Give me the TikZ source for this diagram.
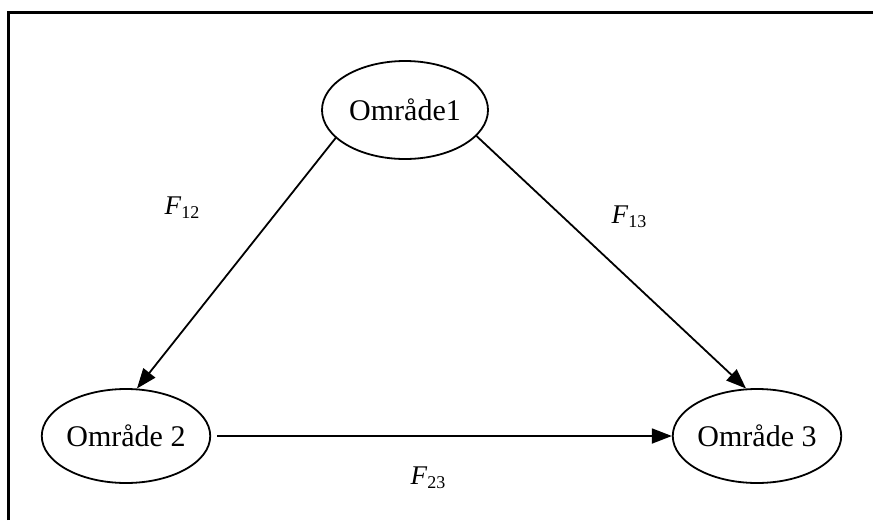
\documentclass[tikz,border=0pt]{standalone}
\usepackage{fontspec}
\setmainfont{Liberation Serif}
\usetikzlibrary{shapes.geometric, arrows.meta}

\newcommand{\flux}[1]{\textit{F}\raisebox{-4pt}{\fontsize{18}{20}\selectfont #1}}

\begin{document}
\begin{tikzpicture}[
    x=1pt, y=-1pt,
    area/.style={
        ellipse, draw=black, line width=1.8pt,
        minimum width=166pt, minimum height=94pt,
        inner sep=0pt, font=\fontsize{30}{36}\selectfont
    },
    flow/.style={-{Triangle[length=20pt,width=15pt]}, line width=1.8pt},
    fluxlabel/.style={fill=white, inner sep=2pt, font=\fontsize{27}{32}\selectfont}
]
\useasboundingbox (0,0) rectangle (873,520);

% Frame
\draw[line width=3pt] (8,520) -- (8,12) -- (873,12);

% Areas
\node[area, minimum height=98pt] (area1) at (405,110) {Område1};
\node[area] (area2) at (126,436) {Område 2};
\node[area] (area3) at (757,436) {Område 3};

% Flows
\draw[flow] (area1.202) -- (area2.77);
\draw[flow] (area1.340) -- (area3.103);
\draw[flow, shorten <=6pt] (area2) -- (area3);

% Labels
\node[fluxlabel] (f12) at (182,208) {\flux{12}};
\node[fluxlabel] (f13) at (629,217) {\flux{13}};
\node[fluxlabel] (f23) at (428,478) {\flux{23}};

\end{tikzpicture}
\end{document}
